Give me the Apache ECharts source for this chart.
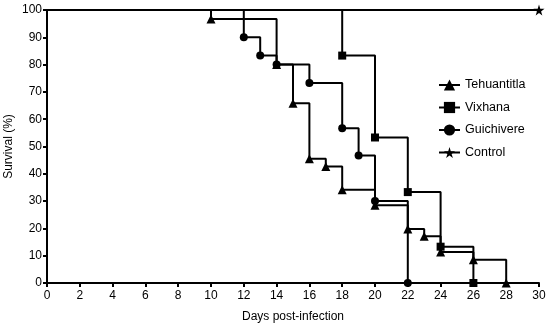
<!DOCTYPE html>
<html><head><meta charset="utf-8">
<script src="https://cdn.jsdelivr.net/npm/echarts@6/dist/echarts.min.js"></script>
<style>html,body{margin:0;padding:0;background:#fff}#c{width:550px;height:327px}</style>
</head><body><div id="c"></div>
<script>
const tehDays = [0, 10, 14, 15, 16, 17, 18, 20, 22, 23, 24, 26, 28];
const tehSurv = [100, 96.7, 80, 65.8, 45.5, 42.7, 34.2, 28.5, 19.8, 17.1, 11.4, 8.5, 0];
const vixDays = [0, 18, 20, 22, 24, 26];
const vixSurv = [100, 83.3, 53.3, 33.3, 13.3, 0];
const guiDays = [0, 12, 13, 14, 16, 18, 19, 20, 22];
const guiSurv = [100, 90, 83.3, 80, 73.3, 56.7, 46.7, 30, 0];
const ctlDays = [0, 30];
const ctlSurv = [100, 100];
const xTicks = [0, 2, 4, 6, 8, 10, 12, 14, 16, 18, 20, 22, 24, 26, 28, 30];
const yTicks = [0, 10, 20, 30, 40, 50, 60, 70, 80, 90, 100];

const STAR = 'path://M50,0 L61,35 L98,35 L68,57 L79,91 L50,70 L21,91 L32,57 L2,35 L39,35 Z';
const FONT = 'Liberation Sans';

function mk(days, surv) {
  return days.map((d, i) => i === 0 ? { value: [d, surv[i]], symbol: 'none' } : [d, surv[i]]);
}
function series(name, days, surv, symbol, size) {
  return {
    name, type: 'line', step: 'end', data: mk(days, surv),
    symbol, symbolSize: size, showAllSymbol: true,
    lineStyle: { color: '#000', width: 2 },
    itemStyle: { color: '#000' },
    animation: false
  };
}

const chart = echarts.init(document.getElementById('c'));
chart.setOption({
  backgroundColor: '#fff',
  textStyle: { fontFamily: FONT },
  grid: { left: 47, right: 11, top: 10, bottom: 44, containLabel: false, outerBoundsMode: 'none' },
  legend: {
    orient: 'vertical', left: 433, top: 73.5, itemGap: 9.5,
    itemWidth: 21, itemHeight: 14,
    textStyle: { fontFamily: FONT, fontSize: 12.5, color: '#000' },
    data: ['Tehuantitla', 'Vixhana', 'Guichivere', 'Control']
  },
  xAxis: {
    type: 'value', min: 0, max: 30, interval: 2,
    name: 'Days post-infection', nameLocation: 'middle', nameGap: 28, nameMoveOverlap: false,
    nameTextStyle: { fontFamily: FONT, fontSize: 12, color: '#000' },
    axisLine: { lineStyle: { color: '#000', width: 2 } },
    axisTick: { length: 4, lineStyle: { color: '#000', width: 2 } },
    axisLabel: { fontFamily: FONT, fontSize: 12, color: '#000', margin: 7,
      formatter: v => xTicks.includes(v) ? String(v) : '' },
    splitLine: { show: false }
  },
  yAxis: {
    type: 'value', min: 0, max: 100, interval: 10,
    name: 'Survival (%)', nameLocation: 'middle', nameGap: 32, nameRotate: 90, nameMoveOverlap: false,
    nameTextStyle: { fontFamily: FONT, fontSize: 12, color: '#000' },
    axisLine: { show: true, lineStyle: { color: '#000', width: 2 } },
    axisTick: { show: true, length: 4, lineStyle: { color: '#000', width: 2 } },
    axisLabel: { fontFamily: FONT, fontSize: 12, color: '#000', margin: 5,
      formatter: v => yTicks.includes(v) ? String(v) : '' },
    splitLine: { show: false }
  },
  series: [
    series('Control', ctlDays, ctlSurv, STAR, 11),
    series('Tehuantitla', tehDays, tehSurv, 'triangle', 9),
    series('Vixhana', vixDays, vixSurv, 'rect', 8),
    series('Guichivere', guiDays, guiSurv, 'circle', 8)
  ]
});
</script></body></html>
